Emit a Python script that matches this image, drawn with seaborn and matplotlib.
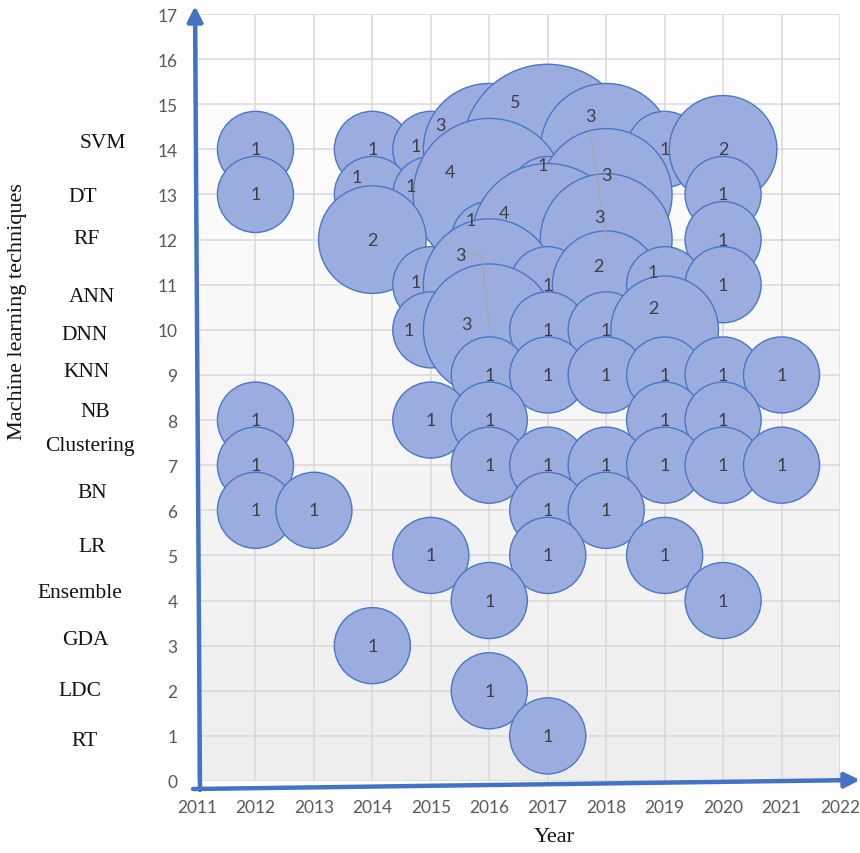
import numpy as np
import pandas as pd
import matplotlib
matplotlib.use("Agg")
import matplotlib.pyplot as plt
from matplotlib.colors import LinearSegmentedColormap
import seaborn as sns

# ---- data -------------------------------------------------------------
techniques = ["RT", "LDC", "GDA", "Ensemble", "LR", "BN", "Clustering",
              "NB", "KNN", "DNN", "ANN", "RF", "DT", "SVM"]  # codes 1..14

# one entry per bubble, listed top row first, years ascending
bubble_tech = (["SVM"] * 8 + ["DT"] * 7 + ["RF"] * 5 + ["ANN"] * 6 +
               ["DNN"] * 5 + ["KNN"] * 6 + ["NB"] * 5 + ["Clustering"] * 7 +
               ["BN"] * 4 + ["LR"] * 3 + ["Ensemble"] * 2 + ["GDA"] +
               ["LDC"] + ["RT"])
bubble_year = [2012, 2014, 2015, 2016, 2017, 2018, 2019, 2020,   # SVM
               2012, 2014, 2015, 2016, 2017, 2018, 2020,         # DT
               2014, 2016, 2017, 2018, 2020,                     # RF
               2015, 2016, 2017, 2018, 2019, 2020,               # ANN
               2015, 2016, 2017, 2018, 2019,                     # DNN
               2016, 2017, 2018, 2019, 2020, 2021,               # KNN
               2012, 2015, 2016, 2019, 2020,                     # NB
               2012, 2016, 2017, 2018, 2019, 2020, 2021,         # Clustering
               2012, 2013, 2017, 2018,                           # BN
               2015, 2017, 2019,                                 # LR
               2016, 2020,                                       # Ensemble
               2014,                                             # GDA
               2016,                                             # LDC
               2017]                                             # RT
bubble_count = [1, 1, 1, 3, 5, 3, 1, 2,
                1, 1, 1, 4, 1, 3, 1,
                2, 1, 4, 3, 1,
                1, 3, 1, 2, 1, 1,
                1, 3, 1, 1, 2,
                1, 1, 1, 1, 1, 1,
                1, 1, 1, 1, 1,
                1, 1, 1, 1, 1, 1, 1,
                1, 1, 1, 1,
                1, 1, 1,
                1, 1,
                1,
                1,
                1]

year_ticks = list(range(2011, 2023))
value_ticks = list(range(0, 18))

# ---- layout of the count labels (nudged off-centre where bubbles pile up)
label_nudge = {
    (2014, "DT"): (-0.26, 0.38),
    (2015, "SVM"): (-0.26, 0.07),
    (2015, "DT"): (-0.34, 0.18),
    (2015, "ANN"): (-0.26, 0.07),
    (2015, "DNN"): (-0.38, 0.0),
    (2016, "SVM"): (-0.84, 0.55),
    (2017, "SVM"): (-0.56, 1.06),
    (2016, "DT"): (-0.67, 0.49),
    (2017, "DT"): (-0.09, 0.66),
    (2018, "SVM"): (-0.12, -1.5),
    (2018, "DT"): (0.0, 0.44),
    (2018, "RF"): (-0.27, 2.73),
    (2016, "RF"): (-0.31, 0.44),
    (2017, "RF"): (-0.75, 0.60),
    (2016, "ANN"): (-0.39, -0.88),
    (2016, "DNN"): (-0.49, 1.66),
    (2018, "ANN"): (-0.14, 0.42),
    (2019, "ANN"): (-0.20, 0.29),
    (2019, "DNN"): (-0.20, 0.49),
}
# labels dragged away from their bubble keep a leader line back to it
leader_labels = [(2018, "RF"), (2016, "DNN")]

df = pd.DataFrame({"year": bubble_year, "tech": bubble_tech,
                   "count": bubble_count})
df["code"] = df["tech"].map({t: i + 1 for i, t in enumerate(techniques)})

# ---- figure -----------------------------------------------------------
W, H = 860, 854
fig = plt.figure(figsize=(W / 100, H / 100), dpi=100)
ax = fig.add_axes([197 / W, 1 - 782 / H, (840 - 197) / W, (782 - 15) / H])

# soft white-to-grey plot-area fill
grad = LinearSegmentedColormap.from_list("pa", ["#eeeeee", "#ffffff"])
ax.imshow(np.linspace(0, 1, 256).reshape(-1, 1), cmap=grad, origin="lower",
          extent=[2011, 2022, 0, 17], aspect="auto", zorder=0)

sns.scatterplot(data=df, x="year", y="code", size="count",
                sizes=(3000, 15000), size_norm=(1, 5), legend=False,
                color="#9badde", edgecolor="#4a76c9", linewidth=1.0,
                alpha=1.0, ax=ax, zorder=2)

for _, r in df.iterrows():
    dx, dy = label_nudge.get((r["year"], r["tech"]), (0.0, 0.0))
    ax.text(r["year"] + dx, r["code"] + dy, str(r["count"]),
            ha="center", va="center", fontsize=13, color="#404040",
            family="Lato", zorder=5)

for yr, tech in leader_labels:
    code = techniques.index(tech) + 1
    dx, dy = label_nudge[(yr, tech)]
    if dy > 2:
        xs = [yr + dx, yr]
        ys = [code + dy - 0.33, code]
    else:
        xs = [yr + dx + 0.2, yr + dx + 0.37, yr]
        ys = [code + dy, code + dy, code]
    ax.plot(xs, ys, color="#a6a6a6", lw=0.9, zorder=4)

ax.set_xlim(2011, 2022)
ax.set_ylim(0, 17)
ax.set_xticks(year_ticks)
ax.set_yticks(value_ticks)
ax.set_xlabel("")
ax.set_ylabel("")
ax.set_axisbelow(True)
ax.grid(True, color="#d9d9d9", lw=1.1)
for s in ax.spines.values():
    s.set_visible(False)
ax.tick_params(length=0, labelsize=12.5, labelcolor="#595959")
ax.tick_params(axis="x", pad=13)
ax.tick_params(axis="y", pad=14)
for lab in ax.get_xticklabels() + ax.get_yticklabels():
    lab.set_family("Lato")

# hand-drawn style axis arrows
arrow_kw = dict(arrowstyle="-|>,head_length=0.9,head_width=0.45",
                color="#4472c4", lw=3.2, shrinkA=0, shrinkB=0)
ax.annotate("", xy=(195, H - 7), xytext=(200, H - 791),
            xycoords="figure pixels", textcoords="figure pixels",
            arrowprops=arrow_kw, annotation_clip=False)
ax.annotate("", xy=(860, H - 781), xytext=(193, H - 790),
            xycoords="figure pixels", textcoords="figure pixels",
            arrowprops=arrow_kw, annotation_clip=False)

# technique names beside the value axis
name_pos = {"SVM": (103, 143), "DT": (83, 197), "RF": (87, 239),
            "ANN": (92, 298), "DNN": (85, 335), "KNN": (87, 373),
            "NB": (95, 413), "Clustering": (90, 447), "BN": (92, 494),
            "LR": (92, 547), "Ensemble": (80, 593), "GDA": (85, 641),
            "LDC": (80, 692), "RT": (85, 742)}
for t in techniques:
    px, py = name_pos[t]
    fig.text(px / W, 1 - py / H, t, ha="center", va="center",
             fontsize=15.5, family="Liberation Serif", color="#111111")

fig.text(18 / W, 1 - 312 / H, "Machine learning techniques", rotation=90,
         ha="center", va="center", fontsize=16, family="Liberation Serif",
         color="#111111")
fig.text(554 / W, 1 - 838 / H, "Year", ha="center", va="center",
         fontsize=16, family="Liberation Serif", color="#111111")

fig.savefig("out.png", dpi=100)
